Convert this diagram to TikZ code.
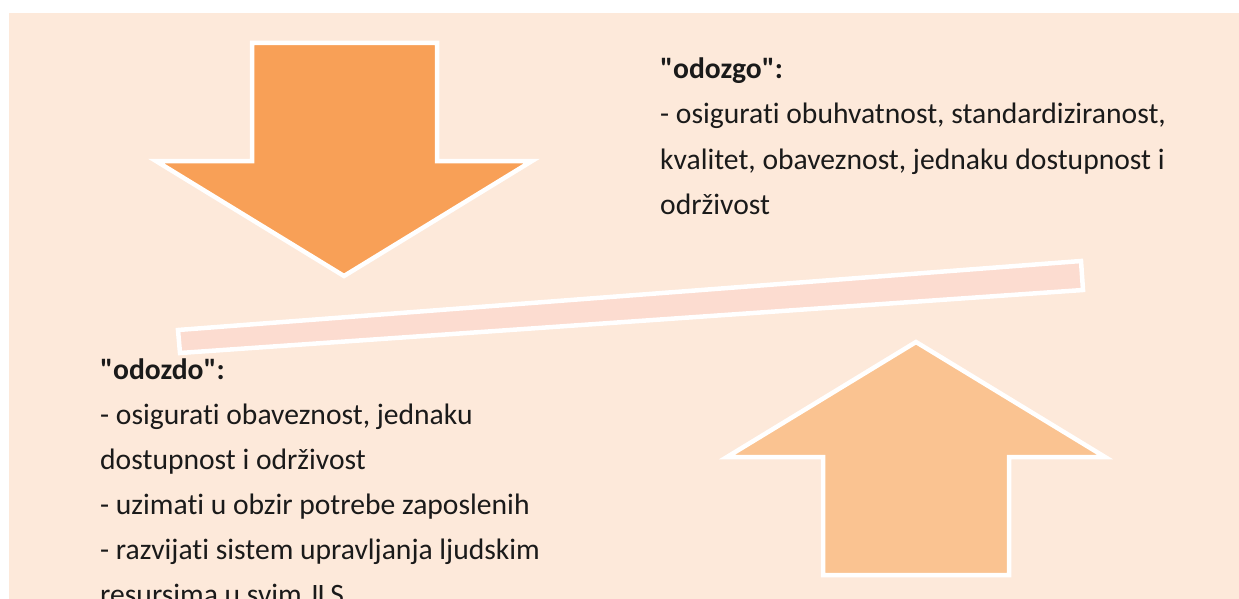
\documentclass[tikz,border=0pt]{standalone}
\usepackage{fontspec}
\setmainfont{Carlito}[Ligatures={TeXOff,NoCommon}]
\definecolor{pagebg}{HTML}{FDE9DA}
\definecolor{downfill}{HTML}{F8A057}
\definecolor{upfill}{HTML}{FAC391}
\definecolor{barfill}{HTML}{FCDCD0}
\definecolor{ink}{HTML}{1A1A1A}
\tikzset{
  shapeborder/.style={draw=white, line width=4.5pt, line join=miter},
  txt/.style={anchor=base west, inner sep=0pt, text=ink, font=\fontsize{29.6}{36}\selectfont},
  hdr/.style={txt, font=\fontsize{29.6}{36}\selectfont\bfseries}
}
\begin{document}
\begin{tikzpicture}[x=1pt, y=-1pt]
  \useasboundingbox (0,0) rectangle (1239,599);
  \clip (0,0) rectangle (1239,599);
  % page background
  \fill[pagebg] (9,13) rectangle (1239,599);

  % downward arrow
  \filldraw[shapeborder, fill=downfill]
    (252,43) -- (437,43) -- (437,161) -- (532,161) -- (344,276)
    -- (156,161) -- (252,161) -- cycle;

  % tilted balance bar
  \filldraw[shapeborder, fill=barfill]
    (178,330) -- (1081,261) -- (1083,290) -- (180,353) -- cycle;

  % upward arrow
  \filldraw[shapeborder, fill=upfill]
    (916,342) -- (1105,457) -- (1009,457) -- (1009,575)
    -- (823,575) -- (823,457) -- (727,457) -- cycle;

  % top-down text
  \node[hdr] (t0) at (660,79)  {"odozgo":};
  \node[txt] (t1) at (660,124) {- osigurati obuhvatnost, standardiziranost,};
  \node[txt] (t2) at (660,169) {kvalitet, obaveznost, jednaku dostupnost i};
  \node[txt] (t3) at (660,214) {održivost};

  % bottom-up text
  \node[hdr] (b0) at (100,379) {"odozdo":};
  \node[txt] (b1) at (100,424) {- osigurati obaveznost, jednaku};
  \node[txt] (b2) at (100,469) {dostupnost i održivost};
  \node[txt] (b3) at (100,514) {- uzimati u obzir potrebe zaposlenih};
  \node[txt] (b4) at (100,559) {- razvijati sistem upravljanja ljudskim};
  \node[txt] (b5) at (100,604) {resursima u svim JLS};
\end{tikzpicture}
\end{document}
